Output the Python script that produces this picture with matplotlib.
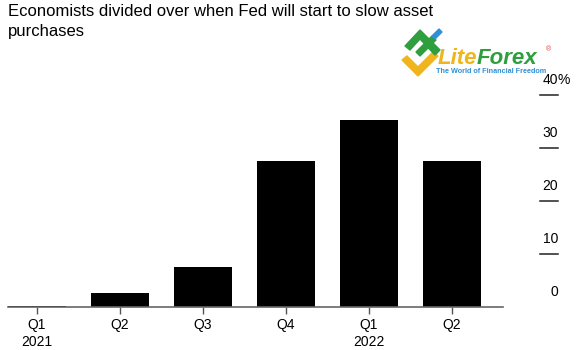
import matplotlib
matplotlib.use('Agg')
import matplotlib.pyplot as plt
import matplotlib.transforms as mtransforms
from matplotlib.patches import Polygon

# data
quarters = ['Q1\n2021', 'Q2', 'Q3', 'Q4', 'Q1\n2022', 'Q2']
share = [0.25, 2.6, 7.5, 27.6, 35.3, 27.6]
y_ticks = [0, 10, 20, 30, 40]

plt.rcParams['font.family'] = ['Liberation Sans', 'DejaVu Sans']

fig = plt.figure(figsize=(5.79, 3.5), dpi=100)
ax = fig.add_axes([8 / 579, 43 / 350, 495 / 579, 42 * 5.3 / 350])

x = list(range(len(quarters)))
ax.bar(x, share, width=0.7, color='black', zorder=2)
ax.set_xlim(-0.35, 5.62)
ax.set_ylim(0, 42)

for s in ['top', 'right', 'left']:
    ax.spines[s].set_visible(False)
ax.spines['bottom'].set_color('#666666')
ax.spines['bottom'].set_linewidth(1.2)
ax.set_yticks([])
ax.set_xticks(x)
ax.set_xticklabels(quarters, fontsize=10, linespacing=1.3)
ax.tick_params(axis='x', length=5, width=1, color='#555555', pad=3)

# right-hand value scale, drawn outside the axes
tr = mtransforms.blended_transform_factory(fig.transFigure, ax.transData)
x0, x1 = 540 / 579, 558 / 579
for v in y_ticks:
    if v > 0:
        ax.plot([x0, x1], [v, v], transform=tr, color='#222222', lw=1.1, clip_on=False)
    ax.text(x1, v + 2.9, str(v), transform=tr, ha='right', va='center', fontsize=10)
    if v == y_ticks[-1]:
        ax.text(x1, v + 2.9, '%', transform=tr, ha='left', va='center', fontsize=10)

fig.text(8 / 579, 1 - 4 / 350,
         'Economists divided over when Fed will start to slow asset\npurchases',
         ha='left', va='top', fontsize=12, linespacing=1.45)

# LiteForex logo (approximation)
fy = lambda p: 1 - p / 350
fx = lambda p: p / 579
green = '#2e9e3e'
yellow = '#f0b41c'
blue = '#2f8fd8'
fig.patches.append(Polygon([(fx(402), fy(60)), (fx(418), fy(76)), (fx(438), fy(56)),
                            (fx(433), fy(52)), (fx(418), fy(67)), (fx(407), fy(56))],
                           closed=True, transform=fig.transFigure, color=yellow))
fig.patches.append(Polygon([(fx(405), fy(46)), (fx(420), fy(30)), (fx(440), fy(50)),
                            (fx(435), fy(55)), (fx(420), fy(39)), (fx(410), fy(50))],
                           closed=True, transform=fig.transFigure, color=green))
fig.patches.append(Polygon([(fx(416), fy(52)), (fx(432), fy(36)), (fx(436), fy(40)),
                            (fx(420), fy(56))],
                           closed=True, transform=fig.transFigure, color=green))
fig.patches.append(Polygon([(fx(432), fy(36)), (fx(439), fy(29)), (fx(442), fy(32)),
                            (fx(435), fy(39))],
                           closed=True, transform=fig.transFigure, color=blue))
fig.text(fx(438), fy(64), 'Lite', color=yellow, fontsize=16, fontweight='bold',
         fontstyle='italic', ha='left', va='baseline')
fig.text(fx(477), fy(64), 'Forex', color=green, fontsize=16, fontweight='bold',
         fontstyle='italic', ha='left', va='baseline')
fig.text(fx(546), fy(50), '®', color='#e04040', fontsize=5, ha='left', va='center')
fig.text(fx(436), fy(73), 'The World of Financial Freedom', color=blue, fontsize=5.2,
         fontweight='bold', ha='left', va='baseline')

fig.savefig('out.png', dpi=100)
